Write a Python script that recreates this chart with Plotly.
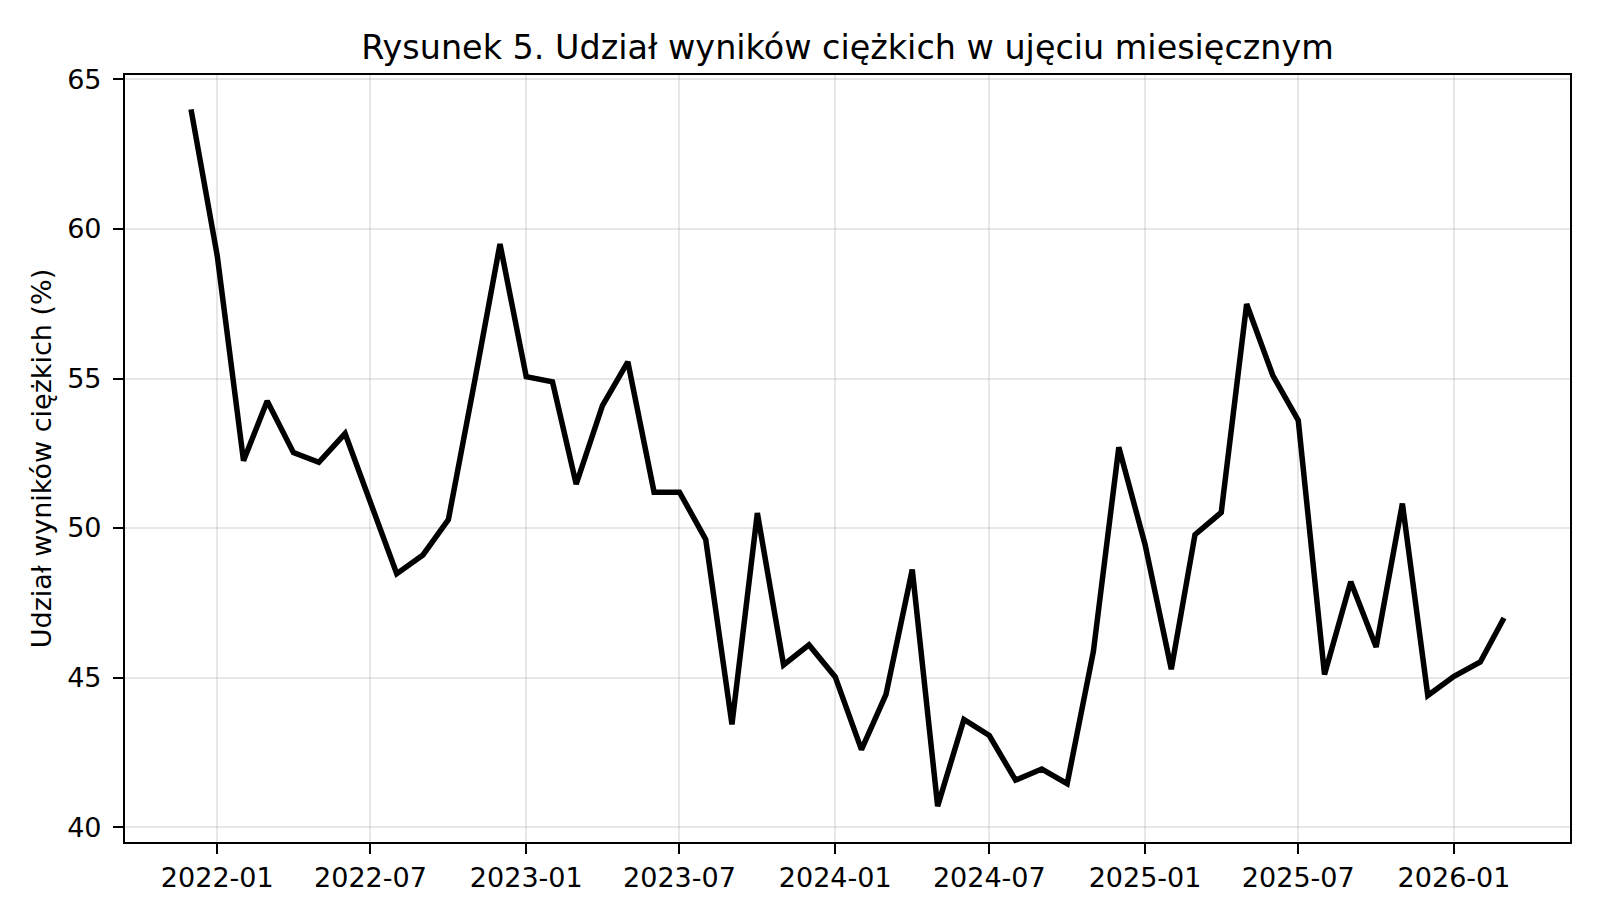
import plotly.graph_objects as go
import pandas as pd

# monthly share of "heavy" results, Dec 2021 - Mar 2026
months = pd.date_range("2021-12-01", "2026-03-01", freq="MS")
share = [
    64.0, 59.1, 52.25, 54.25, 52.52, 52.2, 53.16, 50.8, 48.47, 49.1, 50.28, 54.9,
    59.5, 55.06, 54.89, 51.47, 54.09, 55.56, 51.2, 51.2, 49.62, 43.43, 50.5, 45.42,
    46.09, 45.02, 42.59, 44.44, 48.61, 40.7, 43.6, 43.06, 41.57, 41.94, 41.45, 45.88,
    52.7, 49.45, 45.28, 49.78, 50.52, 57.49, 55.1, 53.6, 45.1, 48.2, 46.02, 50.82,
    44.4, 45.04, 45.52, 46.99,
]
y_ticks = [40, 45, 50, 55, 60, 65]

title = "Rysunek 5. Udział wyników ciężkich w ujęciu miesięcznym"
y_title = "Udział wyników ciężkich (%)"

font = "DejaVu Sans"
grid = "rgba(176,176,176,0.3)"

# page body has an 8px margin, so the figure is a bit smaller than the window
W, H = 1584, 903

fig = go.Figure(go.Scatter(
    x=months,
    y=share,
    mode="lines",
    line=dict(color="black", width=5.5),
    showlegend=False,
))

fig.update_layout(
    width=W,
    height=H,
    paper_bgcolor="white",
    plot_bgcolor="white",
    margin=dict(l=117, r=22, t=67, b=69),
    font=dict(family=font, size=27, color="black"),
    title=dict(
        text=title,
        font=dict(family=font, size=33.4, color="black"),
        x=0.5, xref="paper", xanchor="center",
        y=1 - 39 / H, yref="container", yanchor="middle",
    ),
)

fig.update_xaxes(
    range=["2021-09-14", "2026-05-18"],
    tickformat="%Y-%m",
    dtick="M6",
    tick0="2022-01-01",
    ticks="outside", ticklen=10, tickwidth=2.2, tickcolor="black",
    ticklabelstandoff=0,
    showline=True, linewidth=2.2, linecolor="black", mirror=True,
    showgrid=True, gridcolor=grid, gridwidth=2.2,
    zeroline=False,
)

fig.update_yaxes(
    range=[39.5, 65.15],
    tickvals=y_ticks,
    ticks="outside", ticklen=10, tickwidth=2.2, tickcolor="black",
    ticklabelstandoff=6,
    showline=True, linewidth=2.2, linecolor="black", mirror=True,
    showgrid=True, gridcolor=grid, gridwidth=2.2,
    zeroline=False,
    title=dict(text=y_title, font=dict(family=font, size=27), standoff=8),
)

fig.write_html("out.html")
